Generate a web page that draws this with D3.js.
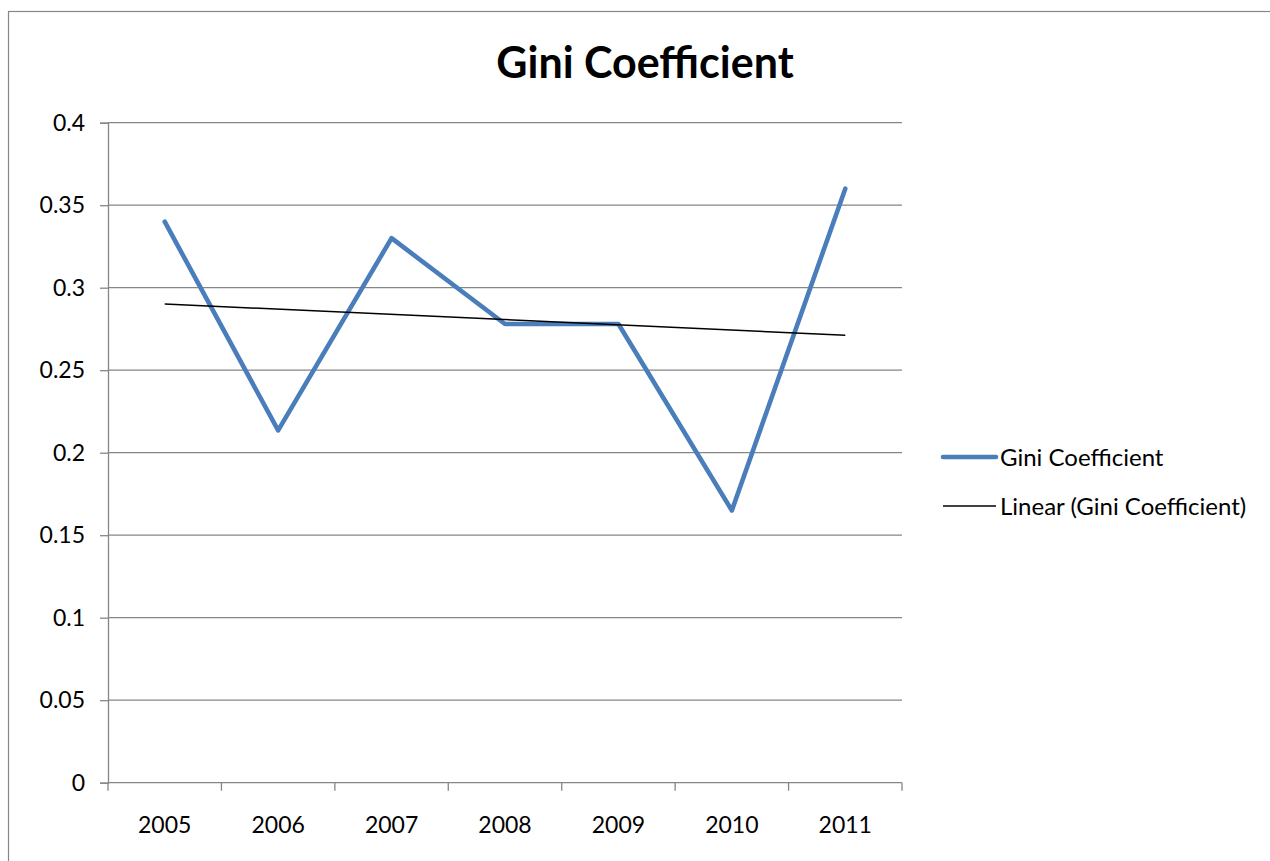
<!DOCTYPE html>
<html>
<head>
<meta charset="utf-8">
<script src="https://cdn.jsdelivr.net/npm/d3@7"></script>
<style>
  html, body { margin: 0; padding: 0; background: #fff; }
  svg { display: block; font-family: Lato, "Open Sans", sans-serif; }
</style>
</head>
<body>
<svg id="chart" width="1270" height="861"></svg>
<script>
// Gini coefficient by year
const years = ["2005", "2006", "2007", "2008", "2009", "2010", "2011"];
const gini = [0.34, 0.2135, 0.33, 0.278, 0.278, 0.165, 0.36];
const yTicks = [0, 0.05, 0.1, 0.15, 0.2, 0.25, 0.3, 0.35, 0.4];
const seriesName = "Gini Coefficient";
const trendName = "Linear (Gini Coefficient)";

const svg = d3.select("#chart");
const margin = { left: 108, right: 902, top: 122.7, bottom: 782.7 };
const gridColor = "#868686";
const lineColor = "#4a7ebb";

// chart frame
svg.append("rect")
  .attr("x", 8.5).attr("y", 11.5)
  .attr("width", 1300).attr("height", 900)
  .attr("fill", "none").attr("stroke", gridColor).attr("stroke-width", 1.2);

const x = d3.scaleBand().domain(years).range([margin.left, margin.right]);
const y = d3.scaleLinear().domain([0, 0.4]).range([margin.bottom, margin.top]);

// horizontal gridlines
svg.append("g").selectAll("line").data(yTicks.filter(d => d > 0)).join("line")
  .attr("x1", margin.left).attr("x2", margin.right)
  .attr("y1", d => y(d)).attr("y2", d => y(d))
  .attr("stroke", gridColor).attr("stroke-width", 1.3);

// y axis
const yAxis = svg.append("g")
  .attr("transform", `translate(${margin.left},0)`)
  .call(d3.axisLeft(y).tickValues(yTicks).tickFormat(d => String(d)).tickSize(8).tickPadding(15));
yAxis.select(".domain").attr("stroke", gridColor).attr("stroke-width", 1.3);
yAxis.selectAll(".tick line").attr("stroke", gridColor).attr("stroke-width", 1.3);
yAxis.selectAll("text").attr("font-size", 23).attr("fill", "#000")
  .attr("font-family", "Lato, sans-serif");

// x axis: ticks on category boundaries
const xAxisG = svg.append("g").attr("transform", `translate(0,${margin.bottom})`);
xAxisG.append("line")
  .attr("x1", margin.left).attr("x2", margin.right)
  .attr("stroke", gridColor).attr("stroke-width", 1.3);
const boundaries = years.map(d => x(d)).concat([x(years[years.length - 1]) + x.bandwidth()]);
xAxisG.selectAll("line.tk").data(boundaries).join("line").attr("class", "tk")
  .attr("x1", d => d).attr("x2", d => d).attr("y1", 0).attr("y2", 8)
  .attr("stroke", gridColor).attr("stroke-width", 1.3);
xAxisG.selectAll("text").data(years).join("text")
  .attr("x", d => x(d) + x.bandwidth() / 2).attr("y", 50)
  .attr("text-anchor", "middle").attr("font-size", 23).attr("fill", "#000")
  .text(d => d);

const cx = d => x(d) + x.bandwidth() / 2;

// data line
svg.append("path")
  .datum(years.map((d, i) => [cx(d), y(gini[i])]))
  .attr("d", d3.line())
  .attr("fill", "none").attr("stroke", lineColor)
  .attr("stroke-width", 4.6).attr("stroke-linejoin", "round").attr("stroke-linecap", "round");

// least-squares trendline
const n = gini.length;
const xs = d3.range(n);
const mx = d3.mean(xs), my = d3.mean(gini);
const slope = d3.sum(xs, i => (i - mx) * (gini[i] - my)) / d3.sum(xs, i => (i - mx) ** 2);
const intercept = my - slope * mx;
svg.append("line")
  .attr("x1", cx(years[0])).attr("y1", y(intercept))
  .attr("x2", cx(years[n - 1])).attr("y2", y(intercept + slope * (n - 1)))
  .attr("stroke", "#000").attr("stroke-width", 1.5);

// title
svg.append("text")
  .attr("x", 645).attr("y", 78)
  .attr("text-anchor", "middle").attr("font-size", 43).attr("font-weight", "bold")
  .attr("fill", "#000").text(seriesName);

// legend
const legend = svg.append("g");
legend.append("line").attr("x1", 943).attr("x2", 996).attr("y1", 457).attr("y2", 457)
  .attr("stroke", lineColor).attr("stroke-width", 4.6).attr("stroke-linecap", "round");
legend.append("text").attr("x", 1000).attr("y", 466).attr("font-size", 24).attr("fill", "#000").text(seriesName);
legend.append("line").attr("x1", 943).attr("x2", 996).attr("y1", 506).attr("y2", 506)
  .attr("stroke", "#000").attr("stroke-width", 1.5);
legend.append("text").attr("x", 1000).attr("y", 515).attr("font-size", 24).attr("fill", "#000").text(trendName);
</script>
</body>
</html>
